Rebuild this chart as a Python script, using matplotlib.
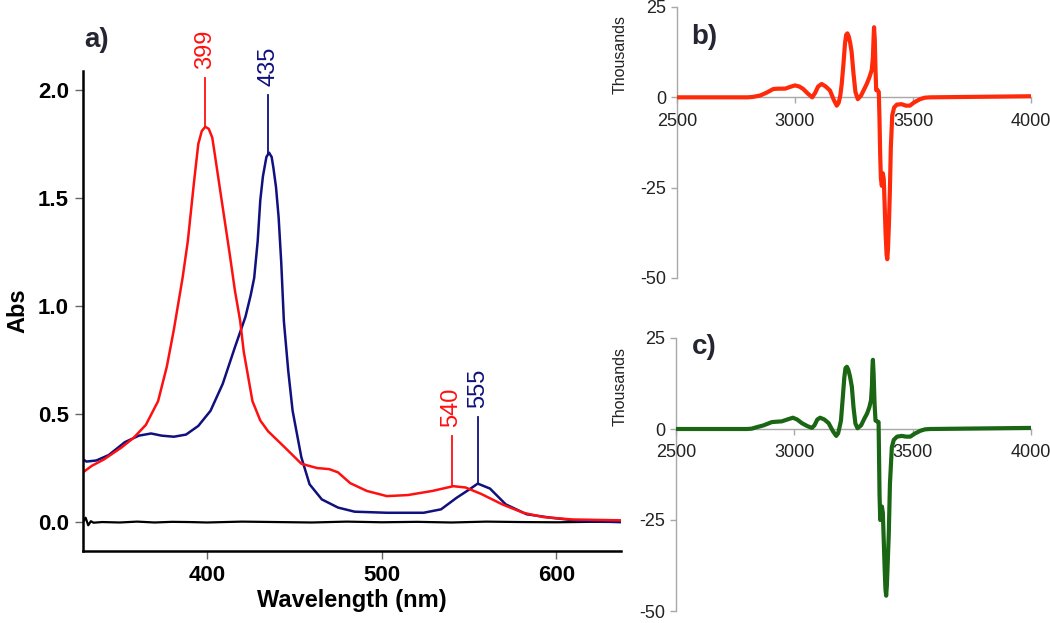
import numpy as np
import matplotlib
matplotlib.use("Agg")
import matplotlib.pyplot as plt

plt.rcParams['font.family'] = ['Liberation Sans', 'DejaVu Sans']
plt.rcParams['axes.unicode_minus'] = False

# UV-vis spectra (panel a)
red_wl = [329, 334, 341, 351, 358, 365, 372, 377, 381, 386, 389, 392.5, 395, 397, 399, 401,
          403, 404.5, 408, 413, 416, 419, 421, 426, 430.5, 435, 444.6, 454, 463, 470, 475,
          482, 491.5, 503, 515, 529, 541, 548, 557, 569, 581, 592.5, 609, 637]
red_abs = [0.23, 0.26, 0.29, 0.345, 0.39, 0.45, 0.56, 0.72, 0.89, 1.13, 1.30, 1.57, 1.75, 1.81, 1.83, 1.82,
           1.78, 1.70, 1.51, 1.24, 1.07, 0.93, 0.79, 0.56, 0.47, 0.42, 0.345, 0.27, 0.25, 0.245, 0.23,
           0.18, 0.144, 0.12, 0.125, 0.144, 0.166, 0.16, 0.13, 0.082, 0.043, 0.023, 0.012, 0.008]

blue_wl = [329, 331, 336.6, 343.7, 353, 361, 368, 374, 381, 388, 395, 402, 409, 416, 419, 422,
           425, 427, 429, 430.5, 432, 434, 435.5, 437, 438, 439.5, 441, 442.5, 444, 446.5, 449, 454,
           458.7, 465.7, 475, 484.5, 503, 524, 534, 543, 550, 555, 562, 571, 583, 597, 613.6, 637]
blue_abs = [0.29, 0.28, 0.285, 0.31, 0.37, 0.40, 0.41, 0.40, 0.395, 0.405, 0.445, 0.515, 0.64, 0.81, 0.88, 0.95,
            1.05, 1.13, 1.30, 1.49, 1.60, 1.69, 1.71, 1.69, 1.64, 1.55, 1.41, 1.20, 0.93, 0.70, 0.515, 0.30,
            0.175, 0.105, 0.067, 0.048, 0.043, 0.043, 0.059, 0.113, 0.15, 0.178, 0.155, 0.082, 0.036, 0.02, 0.005, 0.0]

base_wl = [329, 330.5, 332, 333.5, 335, 340, 350, 360, 370, 380, 390, 400, 420, 440, 460,
           480, 500, 520, 540, 560, 580, 600, 620, 637]
base_abs = [0.0, 0.02, -0.015, 0.004, -0.003, 0.0, -0.002, 0.002, -0.002, 0.001, 0.0, -0.002, 0.002,
            0.0, -0.002, 0.002, -0.001, 0.001, -0.002, 0.002, 0.0, -0.001, 0.001, 0.0]

peak_wl = [399, 435, 540, 555]
peak_abs = [1.83, 1.71, 0.166, 0.178]
peak_top = [2.055, 1.977, 0.40, 0.486]
peak_col = ['#ff1010', '#10107e', '#ff1010', '#10107e']

# EPR spectra (panels b, c), field in G, intensity in thousands
epr_b_x = [2500, 2800, 2820, 2852, 2880, 2908, 2930, 2958, 2980, 3000, 3018, 3035, 3055, 3073,
           3085, 3098, 3113, 3130, 3148, 3165, 3177, 3185, 3192, 3198, 3205, 3212, 3217, 3222, 3228,
           3234, 3240, 3248, 3256, 3266, 3280, 3295, 3304, 3315, 3325, 3330, 3333, 3335, 3338, 3341,
           3344, 3350, 3355, 3358, 3361, 3364, 3368, 3372, 3376, 3380, 3384, 3388, 3391, 3394, 3398,
           3402, 3406, 3412, 3420, 3432, 3452, 3470, 3487, 3505, 3530, 3550, 3572, 4000]
epr_b_y = [0, 0, 0.1, 0.5, 1.3, 2.3, 2.4, 2.4, 2.9, 3.3, 3.0, 2.3, 1.0, 0,
           1.2, 3.0, 3.7, 3.0, 1.9, -0.8, -2.3, -1.5, 0.5, 3.7, 9.0, 15.0, 17.3, 17.7, 16.8,
           15.0, 12.5, 6.5, 1.5, -0.5, 0.5, 2.5, 3.7, 5.5, 7.5, 11.0, 16.5, 19.4, 16.0, 8.0,
           2.0, 2.0, 1.5, -6.0, -16.0, -22.5, -24.5, -21.0, -22.5, -30.0, -38.0, -43.5, -44.8, -42.0, -35.0,
           -26.0, -14.0, -5.0, -2.8, -2.0, -1.9, -2.3, -2.3, -1.4, -0.5, -0.1, 0, 0.3]

epr_c_x = [2500, 2800, 2820, 2841, 2870, 2905, 2925, 2947, 2970, 2994, 3012, 3032, 3055, 3074,
           3085, 3097, 3109, 3127, 3145, 3163, 3177, 3185, 3191, 3197, 3204, 3211, 3216, 3222, 3228,
           3235, 3243, 3250, 3258, 3267, 3282, 3297, 3307, 3317, 3324, 3328, 3330, 3332, 3335, 3339,
           3343, 3350, 3356, 3358, 3360, 3363, 3366, 3370, 3374, 3378, 3382, 3385, 3388, 3391, 3395,
           3399, 3404, 3412, 3420, 3434, 3454, 3472, 3490, 3508, 3532, 3552, 3574, 4000]
epr_c_y = [0, 0, 0.1, 0.5, 1.0, 1.9, 2.0, 2.1, 2.6, 3.1, 2.6, 1.6, 0.8, 0.3,
           1.0, 2.6, 3.1, 2.6, 1.6, -0.6, -1.9, -1.2, 0.5, 2.3, 8.0, 14.0, 16.7, 17.1, 16.3,
           14.5, 11.6, 6.0, 1.5, 0.2, 1.0, 3.0, 4.2, 6.0, 7.9, 12.0, 17.0, 19.0, 15.0, 7.0,
           2.3, 2.1, 1.9, -8.0, -18.0, -25.0, -24.0, -21.3, -23.0, -31.0, -39.0, -44.0, -45.8, -43.0, -36.0,
           -29.0, -15.0, -5.0, -3.0, -2.1, -1.9, -2.1, -2.1, -1.3, -0.5, -0.1, 0, 0.3]

W, H = 1050, 623
fig = plt.figure(figsize=(W / 100, H / 100), dpi=100)

# ---- panel a ----
ax = fig.add_axes([83 / W, 1 - 551 / H, (621 - 83) / W, (551 - 71) / H])
ax.plot(base_wl, base_abs, color='black', lw=1.6)
ax.plot(blue_wl, blue_abs, color='#10107e', lw=1.8)
ax.plot(red_wl, red_abs, color='#ff1010', lw=1.8)
for wl, a0, a1, c in zip(peak_wl, peak_abs, peak_top, peak_col):
    ax.plot([wl, wl], [a0, a1], color=c, lw=1.3, clip_on=False)
    ax.text(wl, a1 + 0.04, str(wl), color=c, rotation=90, ha='center', va='bottom',
            fontsize=17, clip_on=False)
ax.set_xlim(329, 637)
ax.set_ylim(-0.134, 2.088)
ax.set_xticks([400, 500, 600])
ax.set_yticks([0, 0.5, 1.0, 1.5, 2.0])
ax.set_yticklabels(['0.0', '0.5', '1.0', '1.5', '2.0'])
for s in ['top', 'right']:
    ax.spines[s].set_visible(False)
for s in ['left', 'bottom']:
    ax.spines[s].set_linewidth(1.8)
ax.tick_params(direction='out', length=6, width=1, color='#666666', labelsize=16, pad=4)
for lab in ax.get_xticklabels() + ax.get_yticklabels():
    lab.set_fontweight('bold')
ax.set_xlabel('Wavelength (nm)', fontsize=17, fontweight='bold', labelpad=2)
ax.set_ylabel('Abs', fontsize=17, fontweight='bold', labelpad=6)
fig.text(97 / W, 1 - 40 / H, 'a)', fontsize=20, fontweight='bold', color='#262632',
         ha='center', va='center')

# ---- panels b and c ----
def epr_panel(rect, xs, ys, color, tag, tag_y, lab_y):
    bx = fig.add_axes(rect)
    bx.plot(xs, ys, color=color, lw=3, solid_joinstyle='round')
    bx.set_xlim(2500, 4000)
    bx.set_ylim(-50, 25)
    bx.set_xticks([2500, 3000, 3500, 4000])
    bx.set_yticks([-50, -25, 0, 25])
    bx.spines['bottom'].set_position(('data', 0))
    for s in ['top', 'right']:
        bx.spines[s].set_visible(False)
    for s in ['left', 'bottom']:
        bx.spines[s].set_color('#a8a8a8')
        bx.spines[s].set_linewidth(1)
        bx.spines[s].set_zorder(0)
    bx.tick_params(direction='out', length=4, width=1, color='#a8a8a8',
                   labelsize=13, labelcolor='#222222')
    bx.tick_params(axis='x', pad=7)
    fig.text(620 / W, 1 - lab_y / H, 'Thousands', rotation=90, fontsize=11.5,
             color='#222222', ha='center', va='center')
    fig.text(704 / W, 1 - tag_y / H, tag, fontsize=20, fontweight='bold', color='#262632',
             ha='center', va='center')
    return bx

epr_panel([677 / W, 1 - 278 / H, (1031 - 677) / W, (278 - 7) / H],
          epr_b_x, epr_b_y, '#ff2a0a', 'b)', 37, 55)
epr_panel([676 / W, 1 - 611 / H, (1031 - 676) / W, (611 - 338) / H],
          epr_c_x, epr_c_y, '#1a6614', 'c)', 347, 387)

fig.savefig('out.png', dpi=100)
